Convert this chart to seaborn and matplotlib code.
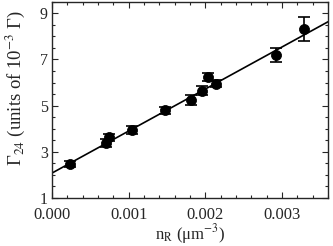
import numpy as np
import pandas as pd
import matplotlib
matplotlib.use("Agg")
import matplotlib.pyplot as plt
import seaborn as sns
from matplotlib.ticker import MultipleLocator, FixedLocator

# data
n_r = [0.00024, 0.00070, 0.00075, 0.00104, 0.00147, 0.00181,
       0.00196, 0.00204, 0.00214, 0.00292, 0.00329]
gamma = [2.47, 3.38, 3.64, 3.94, 4.81, 5.24, 5.64, 6.24, 5.94, 7.19, 8.32]
gamma_err = [0.13, 0.16, 0.15, 0.16, 0.15, 0.22, 0.2, 0.16, 0.15, 0.29, 0.5]
y_ticks = [1, 3, 5, 7, 9]
x_ticks = [0.000, 0.001, 0.002, 0.003]

# linear fit shown in the figure
fit_intercept = 2.08
fit_slope = 1820.0
fit_x = [0.0, 0.0036]

df = pd.DataFrame({"n": n_r, "g": gamma, "err": gamma_err})
fit = pd.DataFrame({"n": fit_x})
fit["g"] = fit_intercept + fit_slope * fit["n"]

sns.set_style("ticks")
plt.rcParams["font.family"] = ["Liberation Serif", "DejaVu Serif"]
plt.rcParams["mathtext.fontset"] = "stix"

fig, ax = plt.subplots(figsize=(3.33, 2.46), dpi=100)
fig.subplots_adjust(left=0.156, right=0.985, top=0.993, bottom=0.195)

sns.lineplot(data=fit, x="n", y="g", color="black", linewidth=1.2, ax=ax)
ax.errorbar(df["n"], df["g"], yerr=df["err"], fmt="none", ecolor="black",
            elinewidth=1.2, capsize=4, capthick=1.2)
sns.scatterplot(data=df, x="n", y="g", color="black", s=52, edgecolor="black",
                zorder=3, ax=ax)

ax.set_xlim(0, 0.0036)
ax.set_ylim(1, 9.5)
ax.xaxis.set_major_locator(FixedLocator(x_ticks))
ax.xaxis.set_minor_locator(MultipleLocator(0.0002))
ax.yaxis.set_major_locator(FixedLocator(y_ticks))
ax.yaxis.set_minor_locator(MultipleLocator(0.5))
ax.set_xticklabels([f"{v:.3f}" for v in x_ticks])
ax.set_yticklabels([str(v) for v in y_ticks])
ax.tick_params(which="both", direction="in", top=True, right=True,
               labelsize=12, width=0.8)
ax.tick_params(which="major", length=4)
ax.tick_params(axis="x", which="major", pad=6.5)
ax.tick_params(axis="y", which="major", pad=3, labelsize=11.5)
ax.tick_params(which="minor", length=2)
for s in ax.spines.values():
    s.set_linewidth(1.0)

ax.set_xlabel("n$_\\mathrm{R}$ (μm$^{-3}$)", fontsize=12, labelpad=-0.5)
ax.set_ylabel("Γ$_{24}$ (units of 10$^{-3}$ Γ)", fontsize=13.5)
ax.yaxis.set_label_coords(-0.09, 0.56)

fig.savefig("out.png", dpi=100)
